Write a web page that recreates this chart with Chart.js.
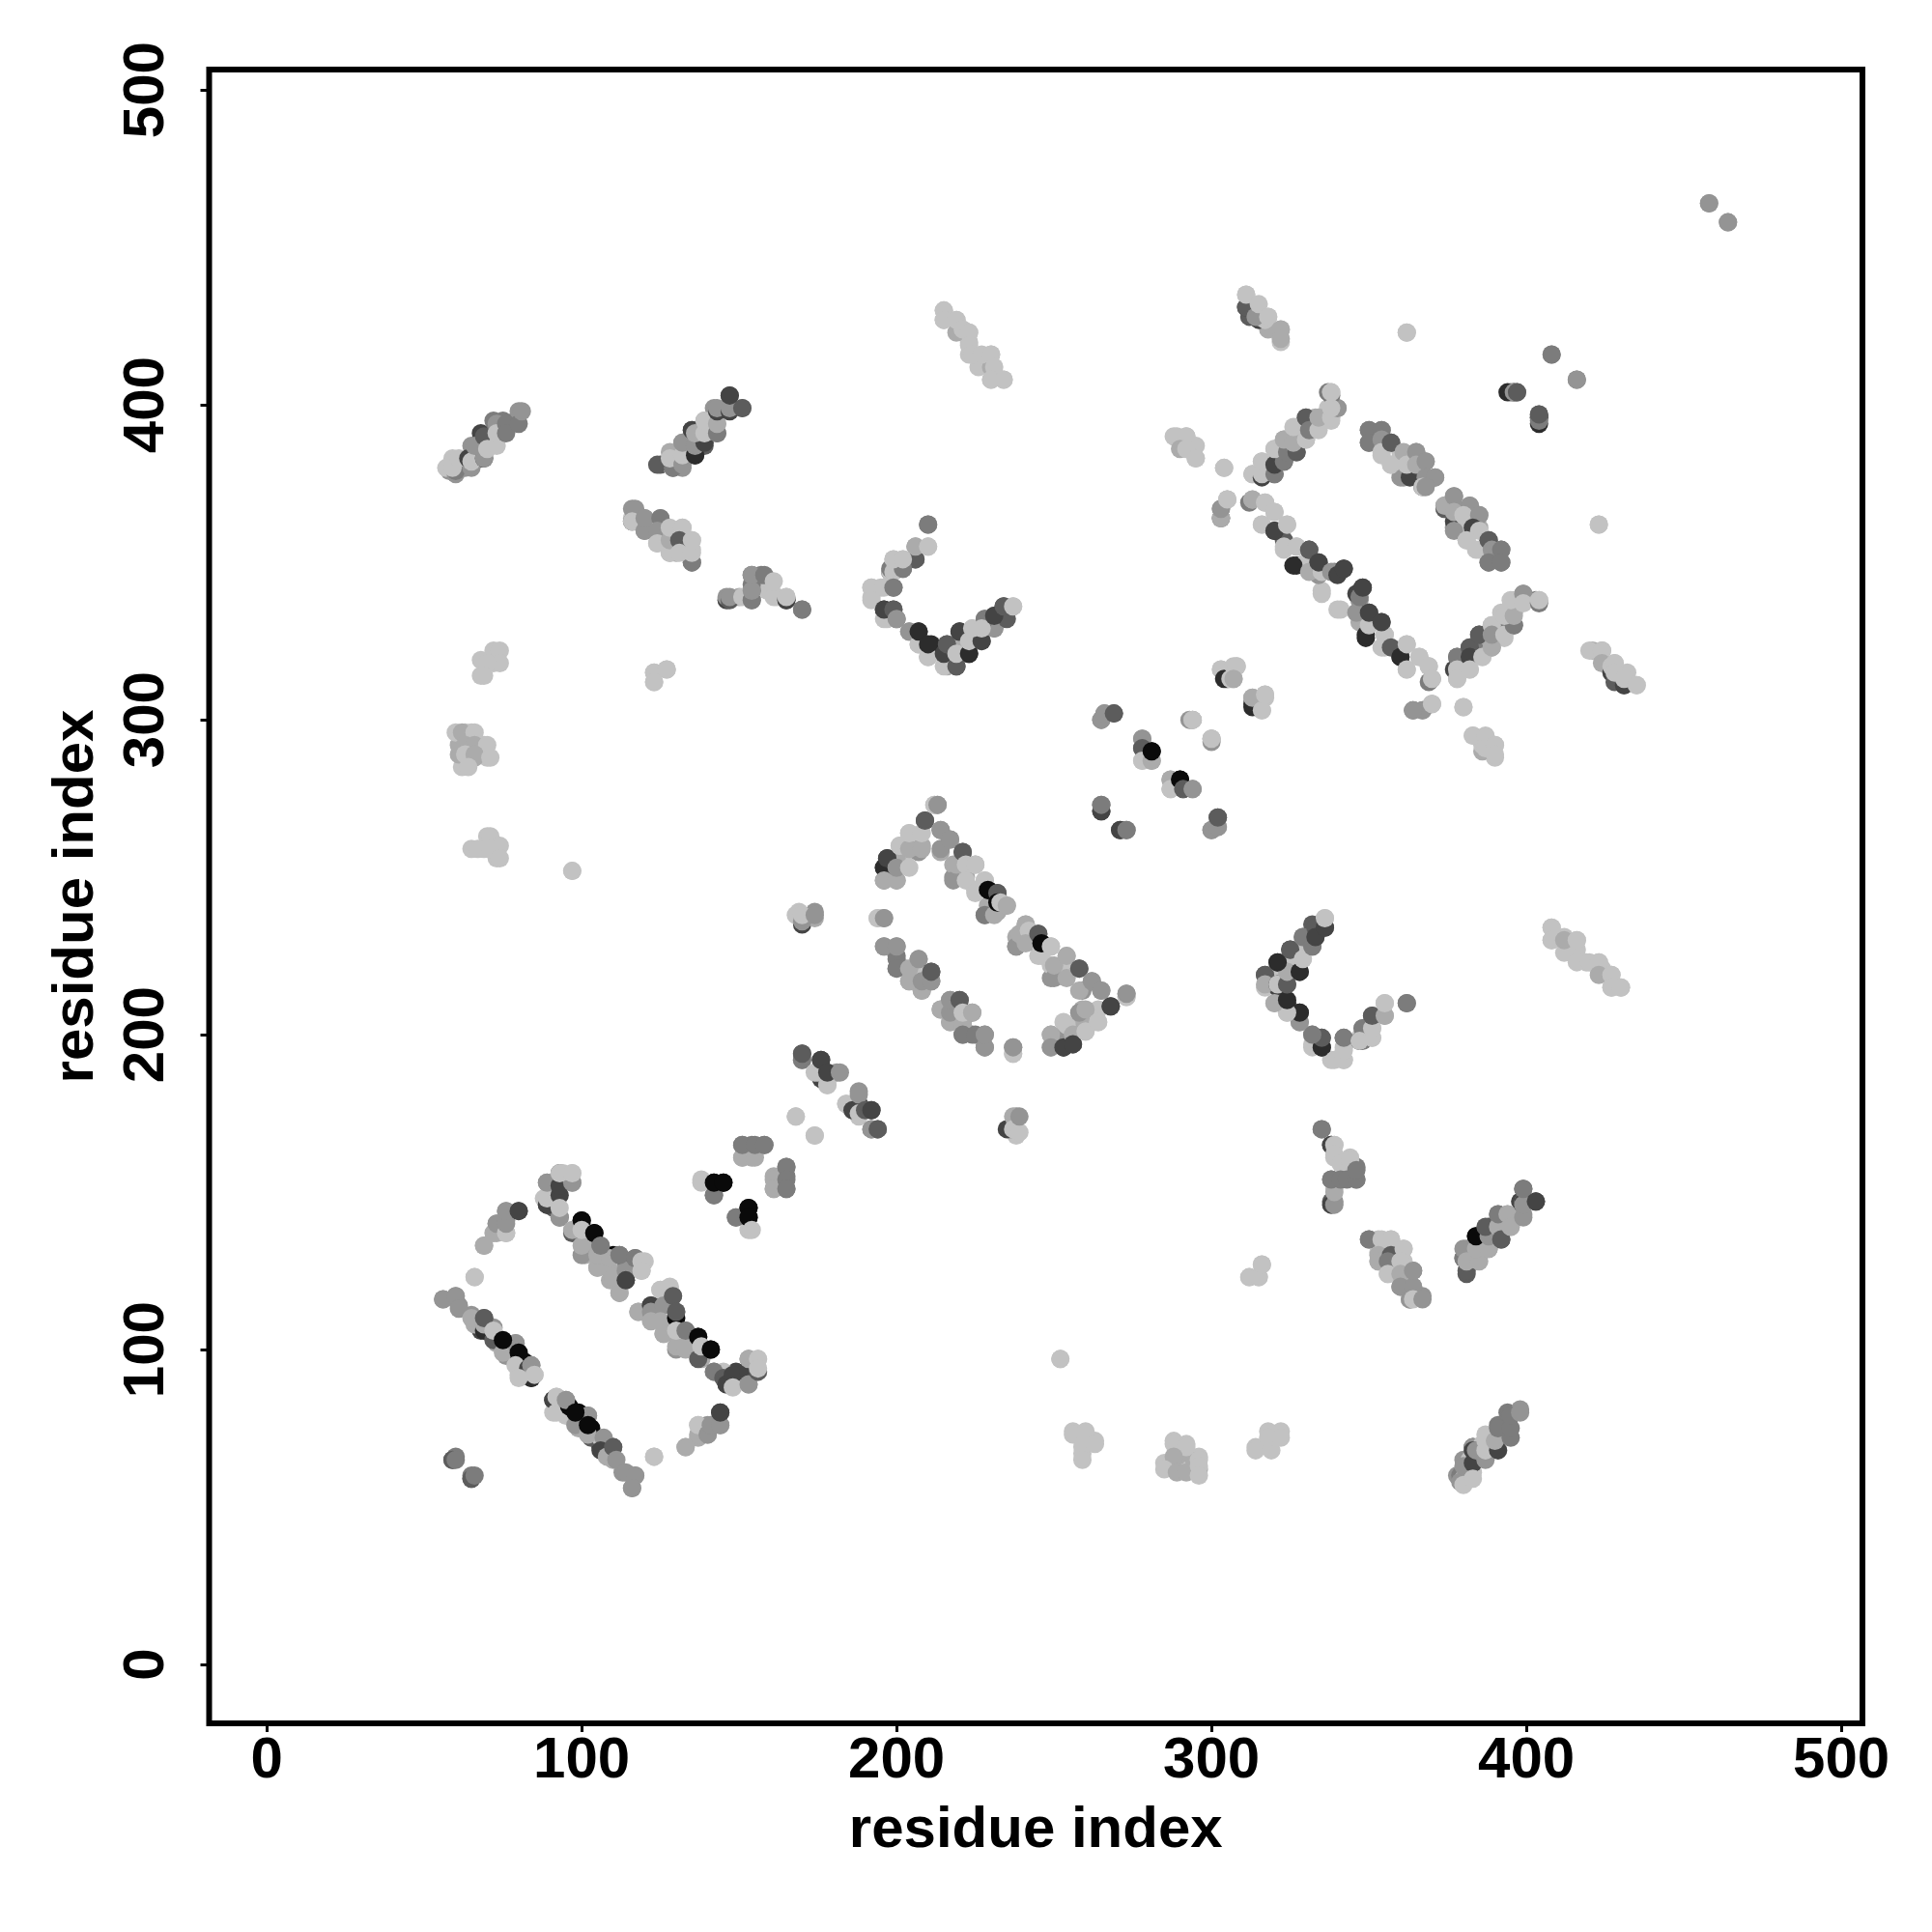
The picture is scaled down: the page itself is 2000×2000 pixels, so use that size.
<!DOCTYPE html>
<html>
<head>
<meta charset="utf-8">
<style>html,body{margin:0;background:#fff}canvas{display:block}</style>
<script src="https://cdn.jsdelivr.net/npm/chart.js@4"></script>
</head>
<body>
<canvas id="contactMap" width="2000" height="2000"></canvas>
<script>
// contact lists: [residue i, residue j, shade level 0 (weak) .. 7 (strong)]
const lowShort = [[66,123,0],[69,133,1],[72,137,1],[73,140,2],[76,137,0],[76,140,2],[76,144,2],[80,144,5]];
const lowUpperA = [[89,146,5],[89,148,0],[89,153,2],[93,149,5],[93,152,5],[93,142,2],[93,145,0],[97,153,2],[93,156,0],[97,156,0],[100,130,2],[100,133,1],[97,138,1],[100,141,7],[100,138,0],[104,137,7],[105,126,1],[105,130,1],[109,129,1],[106,133,3],[112,118,1],[110,123,1],[114,125,2],[112,130,3],[114,122,5],[117,129,3],[119,128,0],[119,125,0]];
const lowUpperB = [[118,112,1],[122,114,5],[122,112,2],[122,109,1],[125,119,0],[128,120,0],[126,114,2],[126,105,1],[125,109,1],[130,110,7],[129,117,4],[130,112,4],[130,101,1],[130,106,0],[133,101,1],[133,106,3],[137,97,4],[137,104,7],[138,101,0],[141,100,7],[142,93,3],[145,91,4],[146,89,5],[148,92,5],[148,88,0],[153,93,5],[153,89,2],[153,97,1],[156,93,4],[156,97,0],[156,94,0]];
const lowLowerA = [[56,116,2],[60,117,2],[61,113,2],[65,110,1],[69,106,6],[69,108,1],[69,110,4],[72,103,4],[72,106,0],[75,99,1],[79,102,2],[75,103,7],[80,99,7],[79,95,0],[83,94,5],[84,91,6],[84,95,2],[80,91,0],[85,92,0]];
const lowLowerB = [[91,84,5],[92,80,0],[92,85,0],[96,82,7],[95,84,2],[98,76,2],[102,79,2],[98,80,7],[102,73,1],[102,76,7],[107,72,2],[106,68,5],[108,66,1],[110,69,4],[111,65,2],[114,61,2],[117,60,2],[116,56,2]];
const lowSide = [[59,65,4],[60,65,3],[65,59,4],[66,60,3],[123,66,0],[133,69,1],[137,73,1],[137,76,0],[140,73,2],[141,76,2],[144,76,2],[144,80,5]];
const bridge = [[138,153,0],[142,149,3],[142,153,7],[145,153,7],[149,142,3],[153,145,7],[153,142,7],[154,138,0],[151,161,1],[155,161,1],[151,165,3],[155,165,3],[158,165,3],[161,154,1],[161,151,1],[165,158,3],[165,154,3],[165,151,3],[168,174,0],[174,168,0],[170,192,3],[170,194,4],[178,184,0],[174,188,0],[176,192,5],[178,188,5],[182,188,2],[184,178,0],[186,176,5],[188,175,0],[188,181,2],[190,176,4],[192,176,5],[192,170,2],[194,170,4],[235,170,5],[237,174,1],[237,170,0],[239,169,0],[239,174,2],[237,194,0],[237,196,2],[252,97,0]];
const midBlock = [[168,238,0],[170,236,2],[170,238,0],[174,238,2],[194,237,0],[196,237,2],[196,253,6],[197,256,5],[196,249,1],[200,249,1],[200,253,2],[204,253,0],[201,260,0],[204,259,1],[208,259,1],[204,264,0],[208,264,0],[209,268,4],[212,273,0],[213,273,2],[214,259,2],[214,265,2],[217,262,2],[218,249,2],[219,254,1],[221,258,4],[222,254,0],[225,254,0],[222,249,0],[228,249,0],[225,245,0],[228,238,3],[231,238,1],[229,246,7],[232,245,4],[232,242,7],[233,242,0],[235,241,1],[238,228,2],[239,232,1],[241,235,1],[242,233,0],[241,229,1],[246,225,0],[245,232,4],[246,229,7],[249,228,0],[250,218,2],[250,222,1],[254,225,1],[254,218,1],[258,214,1],[258,221,4],[262,217,2],[265,214,2],[273,212,0],[273,213,2],[268,209,5],[249,200,1],[249,196,2],[253,196,5],[254,203,0],[256,200,1],[256,197,5],[258,207,2],[260,208,1],[260,201,0],[264,204,0]];
const midLower = [[196,228,2],[200,224,3],[200,221,3],[200,228,2],[204,217,1],[204,221,1],[208,214,1],[208,217,2],[207,224,2],[211,217,2],[211,220,4],[214,208,1],[217,204,1],[217,207,2],[217,211,2],[220,211,4],[221,203,1],[221,207,0],[224,207,1],[221,200,3],[225,200,3],[228,196,2],[228,200,2]];
const crossPairs = [[265,271,5],[265,273,3],[271,265,5],[273,265,3],[265,300,2],[266,302,2],[269,302,4],[278,294,2],[278,291,4],[278,287,0],[281,287,1],[281,290,7],[294,300,1],[294,300,0],[300,293,2],[300,294,0],[287,281,1],[287,278,0],[290,281,7],[291,278,4],[294,278,2],[300,265,2],[302,266,2],[302,269,4]];
const rightHook = [[362,210,3],[332,197,0],[335,196,6],[339,192,0],[342,192,0],[342,195,0],[335,199,4],[342,199,3],[332,200,3],[328,204,2],[328,207,6],[324,207,0],[320,210,1],[324,211,6],[317,219,4],[317,216,1],[321,216,6],[321,216,0],[324,216,4],[324,220,1],[321,223,6],[325,227,4],[328,220,6],[329,224,0],[329,231,3],[332,228,3],[333,234,4],[333,231,5],[336,234,5],[336,237,0],[347,198,5],[348,202,3],[347,198,0],[351,199,0],[351,202,0],[351,206,4],[355,206,1],[355,210,0]];
const rightLight = [[408,234,0],[408,230,0],[412,226,0],[412,230,1],[416,230,0],[416,223,0],[420,223,0],[423,223,0],[423,219,1],[427,219,0],[427,215,0],[430,215,0]];
const rightStem = [[335,170,3],[338,165,5],[339,165,0],[339,162,0],[341,159,0],[344,160,0],[338,146,5],[339,146,2],[339,150,1],[338,154,3],[341,154,3],[343,154,3],[346,154,3],[346,157,3]];
const rightFan = [[350,135,3],[354,135,0],[357,135,0],[353,130,1],[353,128,1],[357,130,4],[356,128,3],[356,124,0],[361,132,0],[360,128,0],[360,124,1],[360,120,2],[364,120,2],[363,116,2],[364,116,0],[364,125,2],[367,116,2]];
const rightBar = [[381,125,4],[380,129,3],[380,132,2],[381,128,1],[385,128,1],[384,132,1],[388,132,1],[384,136,7],[388,136,2],[387,139,4],[391,139,1],[392,135,4],[391,143,3],[394,143,1],[395,139,1],[399,142,2],[399,147,5],[399,146,2],[399,151,3],[403,147,5]];
const lowLight = [[312,123,0],[315,123,0],[316,127,0],[256,73,0],[260,73,0],[259,69,0],[263,70,0],[259,65,0],[288,70,0],[292,69,0],[288,66,1],[285,62,0],[289,61,1],[292,61,1],[296,65,0],[296,63,0],[296,60,0],[314,68,0],[319,68,0],[318,72,0],[322,72,0]];
const lowBar = [[379,58,2],[380,63,2],[383,64,5],[380,57,0],[383,59,0],[383,68,5],[387,65,2],[384,68,2],[387,68,0],[387,71,0],[391,68,5],[390,71,1],[395,72,3],[391,75,3],[395,75,3],[395,79,3],[398,80,2]];
const leftArc = [[62,296,1],[66,296,0],[63,292,1],[66,292,1],[70,292,0],[63,289,0],[66,289,1],[71,288,0],[64,285,0],[71,263,0],[67,259,0],[74,260,0],[71,259,0],[74,256,0],[97,252,0],[74,322,0],[74,318,0],[70,318,0],[69,314,0],[123,315,0],[127,316,0],[123,312,0]];
const upLeftBar = [[60,378,2],[60,379,3],[59,380,0],[61,383,0],[65,380,2],[64,383,5],[65,382,0],[69,383,5],[69,383,2],[66,387,2],[69,390,4],[70,386,0],[73,387,0],[73,394,2],[73,391,0],[76,394,3],[76,391,3],[80,394,3],[81,398,2]];
const upMidBar = [[124,381,4],[129,380,3],[128,383,0],[132,381,2],[132,384,0],[136,384,6],[132,388,2],[136,387,2],[139,388,5],[135,392,5],[136,391,1],[139,391,0],[139,395,0],[143,391,3],[143,394,1],[143,398,5],[143,399,2],[147,398,5],[147,399,2],[151,399,4],[147,403,5]];
const upMidFan = [[116,363,3],[117,367,2],[116,363,0],[120,360,2],[120,364,2],[125,364,3],[124,360,2],[124,356,0],[128,353,0],[128,357,1],[128,361,0],[132,361,0],[131,357,4],[135,350,3],[131,353,0],[135,353,0],[135,357,0]];
const upSide = [[147,338,4],[147,339,2],[151,339,0],[154,338,3],[154,341,2],[154,346,2],[158,346,3],[161,339,0],[161,344,0],[165,338,5],[165,339,0],[170,335,3]];
const upHook = [[210,362,3],[206,351,4],[206,355,1],[210,355,0],[198,348,3],[199,347,0],[202,348,3],[199,351,0],[202,351,0],[192,342,0],[192,338,0],[196,342,0],[199,342,3],[196,332,0],[196,335,5],[199,335,4],[200,332,2],[204,328,2],[207,324,0],[207,328,6],[210,320,0],[210,324,6],[215,317,0],[219,317,4],[215,321,5],[216,324,4],[219,321,0],[220,328,5],[223,321,6],[223,325,0],[227,325,5],[224,329,0],[231,329,2],[228,332,3],[227,329,0],[235,332,4],[231,333,5],[234,336,4],[237,336,0]];
const upStrand = [[215,430,0],[215,427,0],[219,427,0],[221,424,0],[223,423,0],[223,419,0],[224,416,0],[227,416,0],[230,416,0],[231,412,0],[230,408,0],[234,408,0],[311,431,4],[311,435,0],[314,428,2],[315,432,0],[318,428,0],[322,424,1],[322,421,1],[362,423,0],[408,416,3],[416,408,2],[458,464,2],[464,458,2]];
const upLight = [[288,390,0],[292,390,0],[290,386,1],[292,386,0],[295,383,0],[304,380,0],[305,370,0],[303,364,1],[303,367,2],[305,370,0],[303,316,0],[304,313,6],[306,313,0],[307,317,0],[308,317,0],[307,313,1],[313,305,6],[313,307,1],[316,303,0],[317,308,0],[423,362,0],[380,304,0],[383,295,0],[387,295,0],[387,291,0],[390,292,0],[390,289,0],[364,303,2],[367,303,2],[370,305,0]];
const rectUpA = [[313,378,0],[316,377,5],[316,378,0],[320,378,3],[316,382,0],[320,381,5],[323,382,3],[320,386,0],[324,385,3],[327,385,4],[323,389,1],[326,388,1],[330,389,0],[326,393,0],[330,396,4],[331,392,3],[334,392,0],[334,396,1],[338,396,0],[340,399,2],[338,403,3],[338,399,0],[338,404,0]];
const rectUpB = [[350,392,3],[354,392,3],[350,388,3],[354,389,2],[354,385,0],[357,388,4],[357,381,0],[361,377,2],[363,377,5],[361,385,1],[362,381,0],[365,385,2],[365,381,1],[368,382,2],[368,377,2],[371,377,2],[367,374,0],[368,374,2]];
const rectUpC = [[374,367,4],[374,368,1],[377,371,2],[377,366,1],[382,368,2],[377,360,2],[380,365,0],[385,365,2],[383,361,5],[385,360,0],[381,357,0],[384,354,0],[388,357,4],[389,354,2],[392,354,3],[388,350,3],[392,350,3]];
const rectLowA = [[313,370,1],[317,369,0],[320,366,0],[316,362,0],[320,360,5],[324,362,0],[326,349,6],[323,355,0],[327,355,0],[331,347,1],[335,347,0],[331,354,4],[334,350,5],[335,340,0],[338,347,2],[340,346,5],[342,348,5]];
const rectLowB = [[341,335,0],[346,334,2],[347,339,3],[348,342,5],[349,327,6],[350,330,0],[350,334,5],[355,327,0],[354,331,5],[354,323,0],[357,323,4],[360,320,6],[362,316,0],[362,324,0],[366,320,0],[369,317,0],[369,312,3],[370,313,0]];
const rectLowC = [[378,320,3],[378,315,4],[378,316,0],[378,313,0],[382,323,4],[382,320,5],[382,316,0],[385,327,4],[386,320,0],[389,323,1],[389,330,0],[389,327,2],[393,327,0],[396,330,3],[393,333,0],[396,333,1],[395,338,0],[399,340,2],[399,337,0],[404,337,3],[404,338,0]];
const upFar = [[394,404,6],[396,404,2],[397,404,4],[404,396,6],[404,395,3],[404,397,4],[420,322,0],[424,322,0],[424,318,1],[427,315,5],[428,312,4],[427,317,0],[428,318,0],[428,315,0],[431,311,5],[431,313,0],[435,311,0],[364,303,2]];

const residueTicks = [0, 100, 200, 300, 400, 500];
const contactLists = [lowShort, lowUpperA, lowUpperB, lowLowerA, lowLowerB, lowSide, bridge, midLower, midBlock, crossPairs, rightHook, rightLight, rightStem, rightFan, rightBar, lowLight, lowBar, leftArc, upLeftBar, upMidBar, upMidFan, upSide, upHook, upStrand, upLight, rectUpA, rectUpB, rectUpC, rectLowA, rectLowB, rectLowC, upFar];

const shades = ['#c2c2c2', '#ababab', '#949494', '#7c7c7c', '#5c5c5c', '#444444', '#2c2c2c', '#0a0a0a'];
const readContacts = contactLists.flat();
// a contact map is symmetric, so (i,j) also holds (j,i). the other half goes underneath what was read directly
const contacts = readContacts.map(c => [c[1], c[0], c[2]]).concat(readContacts);

// frame around the plot, chart.js only gives us the two axis lines
const frameBox = {
    id: 'frameBox',
    afterDraw(chart) {
        const a = chart.chartArea, c = chart.ctx;
        c.save();
        c.strokeStyle = '#000';
        c.lineWidth = 6;
        c.strokeRect(a.left, a.top, a.right - a.left, a.bottom - a.top);
        c.restore();
    }
};

const axisFont = { family: 'Liberation Sans', size: 60, weight: 'bold', lineHeight: 1.2 };
function fixedTicks(scale) {
    scale.ticks = residueTicks.map(v => ({ value: v }));
}
const tickGrid = { drawOnChartArea: false, drawTicks: true, tickLength: 9, tickWidth: 3, tickColor: '#000' };

new Chart(document.getElementById('contactMap'), {
    type: 'scatter',
    data: {
        datasets: [{
            data: contacts.map(c => ({ x: c[0], y: c[1] })),
            pointBackgroundColor: contacts.map(c => shades[c[2]]),
            pointBorderWidth: 0,
            pointRadius: 9.5,
            showLine: false
        }]
    },
    options: {
        responsive: false,
        animation: false,
        layout: { padding: { top: 72, right: 72, left: 0, bottom: 0 } },
        plugins: { legend: { display: false }, tooltip: { enabled: false } },
        scales: {
            x: {
                type: 'linear',
                min: -18.3,
                max: 506.7,
                afterBuildTicks: fixedTicks,
                afterFit(s) { s.height = 216; },
                border: { display: false },
                grid: tickGrid,
                ticks: { font: axisFont, color: '#000', padding: -6, minRotation: 0, maxRotation: 0, autoSkip: false },
                title: { display: true, text: 'residue index', color: '#000', font: axisFont, padding: { top: 0, bottom: 69 } }
            },
            y: {
                type: 'linear',
                min: -18.7,
                max: 506.5,
                afterBuildTicks: fixedTicks,
                afterFit(s) { s.width = 216.5; },
                border: { display: false },
                grid: tickGrid,
                ticks: { font: axisFont, color: '#000', padding: 5, minRotation: 90, maxRotation: 90, crossAlign: 'center', autoSkip: false },
                title: { display: true, text: 'residue index', color: '#000', font: axisFont, padding: { top: 43, bottom: 0 } }
            }
        }
    },
    plugins: [frameBox]
});
</script>
</body>
</html>
